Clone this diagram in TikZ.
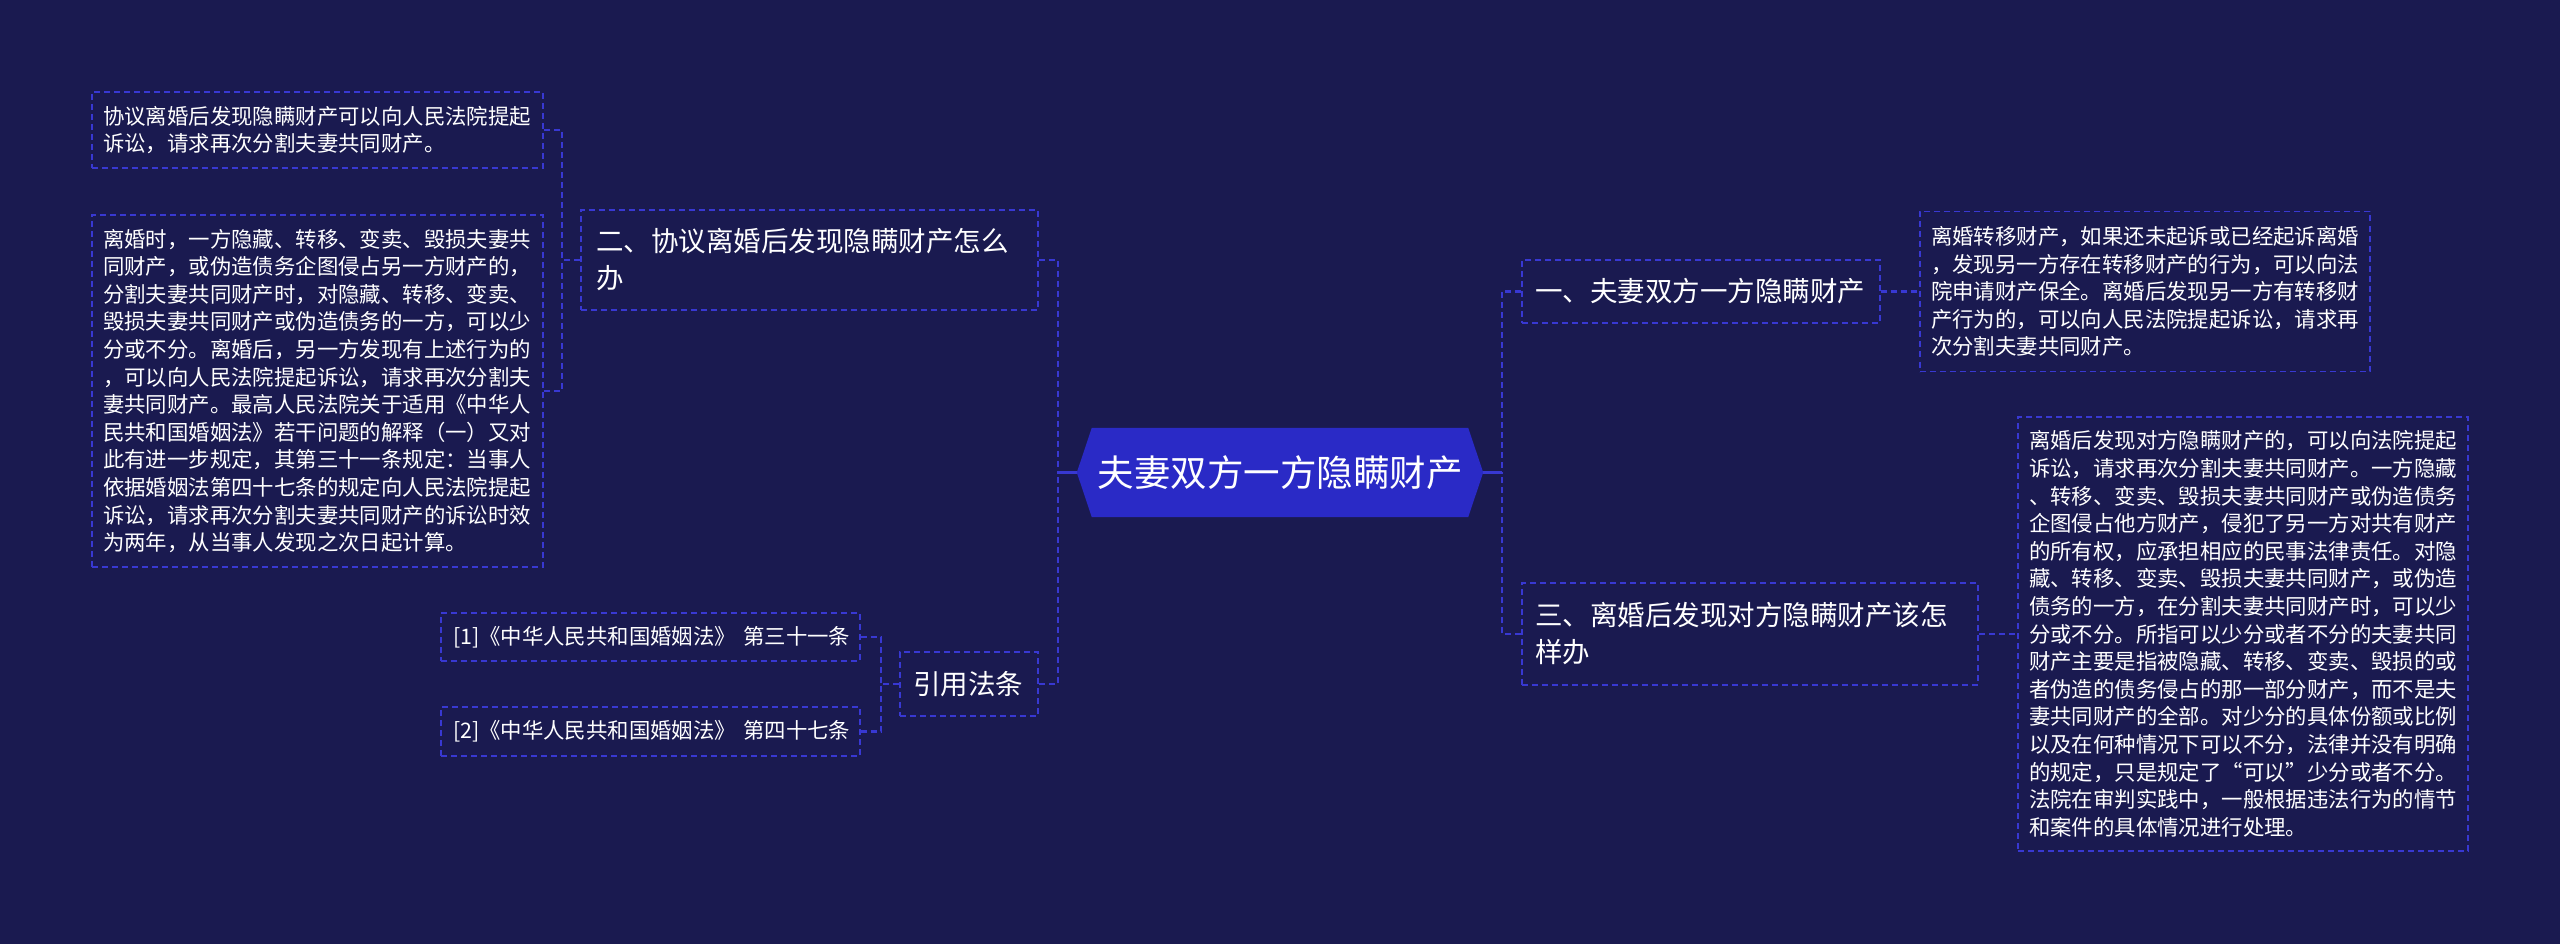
\documentclass[tikz,border=0pt]{standalone}
\usepackage{fontspec}
\setmainfont{Noto Sans CJK SC}
\usetikzlibrary{backgrounds}
\definecolor{bgc}{HTML}{1A1A50}
\definecolor{linec}{HTML}{3838D2}
\definecolor{mainc}{HTML}{2A2AC6}
\tikzset{
  box/.style={draw=linec, line width=1.8pt, dash pattern=on 6pt off 4pt, inner sep=0pt,
    text=white, align=left, font=\fontsize{21.4pt}{27.6pt}\selectfont},
  topic/.style={box, font=\fontsize{27.5pt}{37pt}\selectfont},
  conn/.style={draw=linec, line width=2.2pt, dash pattern=on 6pt off 4pt},
  stub/.style={draw=linec, line width=2.2pt},
}
\begin{document}
\begin{tikzpicture}[x=1pt,y=-1pt]
\useasboundingbox (0,0) rectangle (2560,944);
% center
\node[text=white, font=\fontsize{36.5pt}{44pt}\selectfont, minimum width=376pt, minimum height=89pt, inner sep=0pt] (c) at (1280,472.5) {夫妻双方一方隐瞒财产};
\coordinate (cl) at ([xshift=-15pt]c.west);
\coordinate (cr) at ([xshift=15pt]c.east);
\begin{pgfonlayer}{background}
\fill[bgc] (0,0) rectangle (2560,944);
\fill[mainc] (c.north west) -- (c.north east) -- (cr) -- (c.south east) -- (c.south west) -- (cl) -- cycle;
\end{pgfonlayer}
% left side
\node[topic, minimum width=457pt, minimum height=100pt, text width=427pt] (t2) at (809.5,260) {二、协议离婚后发现隐瞒财产怎么\\办};
\node[box, minimum width=451pt, minimum height=76pt, text width=429pt] (b1) at (317.5,130) {协议离婚后发现隐瞒财产可以向人民法院提起\\诉讼，请求再次分割夫妻共同财产。};
\node[box, minimum width=451pt, minimum height=352pt, text width=429pt] (b2) at (317.5,391) {离婚时，一方隐藏、转移、变卖、毁损夫妻共\\同财产，或伪造债务企图侵占另一方财产的，\\分割夫妻共同财产时，对隐藏、转移、变卖、\\毁损夫妻共同财产或伪造债务的一方，可以少\\分或不分。离婚后，另一方发现有上述行为的\\，可以向人民法院提起诉讼，请求再次分割夫\\妻共同财产。最高人民法院关于适用《中华人\\民共和国婚姻法》若干问题的解释（一）又对\\此有进一步规定，其第三十一条规定：当事人\\依据婚姻法第四十七条的规定向人民法院提起\\诉讼，请求再次分割夫妻共同财产的诉讼时效\\为两年，从当事人发现之次日起计算。};
\node[topic, minimum width=138pt, minimum height=64pt, text width=112pt] (t4) at (969,684) {引用法条};
\node[box, minimum width=419pt, minimum height=48pt, text width=395pt] (l1) at (650.5,637) {\mbox{[1]《中华人民共和国婚姻法》 第三十一条}};
\node[box, minimum width=419pt, minimum height=49pt, text width=395pt] (l2) at (650.5,731.5) {\mbox{[2]《中华人民共和国婚姻法》 第四十七条}};
% right side
\node[topic, minimum width=358pt, minimum height=63pt, text width=332pt] (t1) at (1701,291.5) {一、夫妻双方一方隐瞒财产};
\node[box, minimum width=450pt, minimum height=160pt, text width=428pt] (r1) at (2145,291.5) {离婚转移财产，如果还未起诉或已经起诉离婚\\，发现另一方存在转移财产的行为，可以向法\\院申请财产保全。离婚后发现另一方有转移财\\产行为的，可以向人民法院提起诉讼，请求再\\次分割夫妻共同财产。};
\node[topic, minimum width=456pt, minimum height=102pt, text width=430pt] (t3) at (1750,634) {三、离婚后发现对方隐瞒财产该怎\\样办};
\node[box, minimum width=450pt, minimum height=434pt, text width=428pt] (r3) at (2243,634) {离婚后发现对方隐瞒财产的，可以向法院提起\\诉讼，请求再次分割夫妻共同财产。一方隐藏\\、转移、变卖、毁损夫妻共同财产或伪造债务\\企图侵占他方财产，侵犯了另一方对共有财产\\的所有权，应承担相应的民事法律责任。对隐\\藏、转移、变卖、毁损夫妻共同财产，或伪造\\债务的一方，在分割夫妻共同财产时，可以少\\分或不分。所指可以少分或者不分的夫妻共同\\财产主要是指被隐藏、转移、变卖、毁损的或\\者伪造的债务侵占的那一部分财产，而不是夫\\妻共同财产的全部。对少分的具体份额或比例\\以及在何种情况下可以不分，法律并没有明确\\的规定，只是规定了“可以”少分或者不分。\\法院在审判实践中，一般根据违法行为的情节\\和案件的具体情况进行处理。};
% junctions
\coordinate (jl) at (1058,472.5);
\coordinate (jr) at (1502,472.5);
\coordinate (j2) at (562,260);
\coordinate (j3) at (881,684);
% connectors
\draw[stub] (cl) -- (jl);
\draw[conn] (t2.east) -| (jl);
\draw[conn] (t4.east) -| (jl);
\draw[conn] (t2.west) -- (j2);
\draw[conn] (b1.east) -| (j2);
\draw[conn] (b2.east) -| (j2);
\draw[conn] (t4.west) -- (j3);
\draw[conn] (l1.east) -| (j3);
\draw[conn] (l2.east) -| (j3);
\draw[stub] (cr) -- (jr);
\draw[conn] (t1.west) -| (jr);
\draw[conn] (t3.west) -| (jr);
\draw[conn] (t1.east) -- (r1.west);
\draw[conn] (t3.east) -- (r3.west);
\end{tikzpicture}
\end{document}
